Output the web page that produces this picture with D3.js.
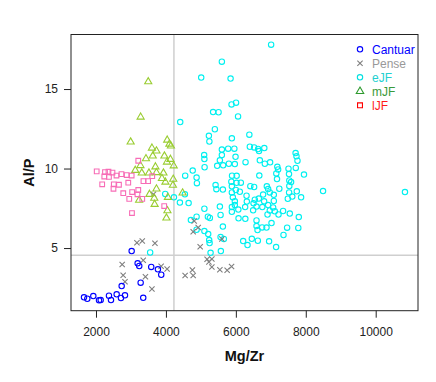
<!DOCTYPE html>
<html>
<head>
<meta charset="utf-8">
<script src="https://cdn.jsdelivr.net/npm/d3@7"></script>
<style>
  body { margin: 0; background: #fff; }
  text { font-family: "Liberation Sans", Arial, sans-serif; }
</style>
</head>
<body>
<script>
// data: [Mg/Zr, Al/P] pairs per group
var cantuar = [[3020,4.81],[3191,4.04],[3237,3.87],[3580,3.81],[3771,3.66],[3866,3.32],[3277,2.82],
  [2734,2.61],[1657,1.90],[1751,1.81],[1923,1.98],[2086,1.71],[2134,1.73],[2371,2.00],[2429,1.73],
  [2591,2.09],[2714,1.86],[2829,2.03],[3351,1.87]];

var pense = [[3643,8.38],[4809,6.70],[4923,6.29],[4780,6.03],[5600,5.57],[4980,5.08],[3171,5.33],
  [3323,5.44],[3686,5.30],[3351,4.23],[2749,3.97],[3863,3.85],[4034,3.68],[2777,3.29],[2829,2.88],
  [3414,3.19],[3600,2.43],[5177,4.30],[5314,4.31],[5314,3.81],[4549,3.27],[4757,3.62],[4780,3.27],
  [5543,3.64],[5751,3.60],[5877,3.84],[5229,4.12]];

var eJF = [[7009,17.79],[5600,16.72],[5009,15.72],[5849,15.66],[5877,14.03],[6006,14.14],[5349,13.55],
  [5506,13.54],[6063,13.28],[4409,12.92],[5400,12.47],[5229,12.06],[5243,11.70],[5886,11.90],[6386,12.13],
  [6400,11.37],[6523,11.33],[5094,10.85],[5100,10.60],[5106,10.08],[5600,11.19],[5600,10.85],[5780,11.25],
  [5957,11.25],[5991,10.74],[5543,10.52],[5637,10.20],[5466,10.17],[5800,10.30],[5971,10.28],[6277,10.40],
  [6663,11.10],[6637,11.23],[6814,11.29],[6686,10.52],[6829,10.30],[6980,10.39],[7186,10.11],[7209,9.94],
  [7157,9.69],[7177,9.34],[7506,9.99],[7520,9.65],[7529,9.25],[7580,9.15],[7529,8.90],[7709,10.97],
  [7734,10.77],[7763,10.49],[7714,10.04],[7949,9.62],[7743,8.57],[7866,8.19],[7614,8.24],[7486,8.10],
  [7523,8.50],[8494,8.58],[10837,8.52],[6671,9.56],[6414,8.89],[6523,8.84],[6886,8.88],[6923,8.71],
  [6971,8.50],[7086,8.35],[7086,7.96],[7243,8.73],[6780,8.36],[6657,8.11],[6543,8.04],[6809,7.94],
  [6591,7.61],[6757,7.58],[6923,7.70],[7066,7.55],[6971,7.36],[6906,7.11],[7114,7.31],[7220,7.11],
  [7351,7.33],[7543,7.17],[7800,6.95],[7020,6.57],[6751,6.30],[6877,6.29],[7466,6.28],[7786,6.26],
  [7363,5.82],[6209,5.44],[6334,5.19],[6457,5.58],[6629,5.46],[6951,5.42],[7151,5.06],[6591,6.38],
  [6620,6.13],[6314,7.92],[6071,7.42],[6077,6.87],[6271,6.84],[5886,7.28],[5971,7.70],[5891,9.55],
  [6023,9.54],[5871,9.17],[6020,9.10],[6143,9.11],[6000,8.65],[5914,8.19],[4551,9.55],[4766,9.87],
  [4877,9.43],[4886,9.08],[5886,8.88],[5886,8.50],[5971,7.94],[5420,8.96],[5443,8.70],[5629,8.68],
  [4543,8.38],[4229,8.19],[4400,7.86],[4649,7.83],[6306,8.29],[5100,7.47],[5543,7.61],[5886,7.58],
  [6266,7.58],[6494,7.37],[5200,6.97],[5257,6.89],[5563,7.08],[6591,6.74],[5629,6.35],[4877,6.15],
  [3549,4.72],[3980,8.40],[4714,6.76],[4877,6.97],[5100,6.07],[5237,5.50],[5249,5.31],[5277,4.70],
  [5571,4.81],[5563,5.69],[5657,5.57],[6114,8.54],[6506,7.81],[5209,5.88]];

var mJF = [[3494,15.46],[3277,13.24],[2991,11.67],[4037,11.79],[4100,11.54],[4143,11.42],[3600,11.29],
  [3729,11.11],[3957,10.79],[3623,10.79],[3429,10.62],[4029,10.41],[4129,10.58],[3271,10.19],[3700,10.11],
  [4223,10.17],[3123,9.89],[3309,9.72],[3514,9.72],[3729,9.75],[3929,9.72],[3886,9.38],[3986,9.15],
  [4209,9.33],[4200,8.95],[3729,8.72],[3529,8.38],[4057,8.19],[3666,8.14],[3234,8.01],[3677,7.75],
  [4043,7.35],[4014,6.89],[4477,8.47]];

var lJF = [[3209,10.49],[2020,9.82],[2257,9.78],[2357,9.80],[2471,9.75],[2237,9.50],[2371,9.47],
  [2586,9.56],[2729,9.65],[2877,9.59],[3020,9.56],[3609,9.52],[3357,9.21],[3491,9.21],[2177,9.01],
  [2509,9.01],[2657,8.98],[2923,9.11],[2500,8.73],[3209,8.65],[3034,8.52],[2780,8.45],[3186,8.38],
  [3323,8.09],[2951,8.09],[3951,7.64],[3029,7.20]];

var xTicks = [2000, 4000, 6000, 8000, 10000];
var yTicks = [5, 10, 15];
var vLine = 4229, hLine = 4.54;

var legendNames = ["Cantuar", "Pense", "eJF", "mJF", "lJF"];
var legendSym = ["circle", "times", "circle", "triangle", "square"];
var legendSymColor = ["#0000ff", "#808080", "#00e0e0", "#2e9a2e", "#ff0000"];
var legendTextColor = ["#0000ff", "#999999", "#22d0d0", "#3a9a3a", "#ff1a1a"];

//draw the chart when the page loads
window.onload = drawChart;

function drawChart(){
    var width = 436, height = 382;
    var mLeft = 71, mRight = 418, mTop = 34.5, mBottom = 310.7;

    var svg = d3.select("body").append("svg")
        .attr("width", width)
        .attr("height", height);

    var x = d3.scaleLinear().domain([1285, 11210]).range([mLeft, mRight]);
    var y = d3.scaleLinear().domain([1.06, 18.43]).range([mBottom, mTop]);

    //clip marks to the plot box
    svg.append("clipPath").attr("id", "clip")
      .append("rect").attr("x", mLeft).attr("y", mTop)
      .attr("width", mRight - mLeft).attr("height", mBottom - mTop);

    var plot = svg.append("g").attr("clip-path", "url(#clip)");

    //reference lines
    plot.append("line")
        .attr("x1", x(vLine)).attr("x2", x(vLine))
        .attr("y1", mTop).attr("y2", mBottom)
        .attr("stroke", "#cfcfcf").attr("stroke-width", 1.5);
    plot.append("line")
        .attr("x1", mLeft).attr("x2", mRight)
        .attr("y1", y(hLine)).attr("y2", y(hLine))
        .attr("stroke", "#cfcfcf").attr("stroke-width", 1.5);

    function drawSym(data, type, color) {
      if (type == "circle") {
        plot.append("g").selectAll("circle")
          .data(data).enter().append("circle")
          .attr("cx", function(d){ return x(d[0]); })
          .attr("cy", function(d){ return y(d[1]); })
          .attr("r", 2.7)
          .attr("fill", "none")
          .attr("stroke", color)
          .attr("stroke-width", 1.1);
      } else {
        var shape = type == "times" ? d3.symbolTimes : (type == "triangle" ? d3.symbolTriangle : d3.symbolSquare);
        var size = type == "times" ? 20 : 22;
        plot.append("g").selectAll("path")
          .data(data).enter().append("path")
          .attr("transform", function(d){ return "translate(" + x(d[0]) + "," + y(d[1]) + ")"; })
          .attr("d", d3.symbol(shape, size))
          .attr("fill", "none")
          .attr("stroke", color)
          .attr("stroke-width", 1.1);
      }
    }

    drawSym(eJF, "circle", "#00f0f0");
    drawSym(pense, "times", "#7f7f7f");
    drawSym(cantuar, "circle", "#0000ff");
    drawSym(mJF, "triangle", "#9acd32");
    drawSym(lJF, "square", "#f76cb6");

    //box
    svg.append("rect")
        .attr("x", mLeft).attr("y", mTop)
        .attr("width", mRight - mLeft).attr("height", mBottom - mTop)
        .attr("fill", "none").attr("stroke", "#222").attr("stroke-width", 1);

    //axes
    var xAxis = svg.append("g")
        .attr("transform", "translate(0," + mBottom + ")")
        .call(d3.axisBottom(x).tickValues(xTicks).tickSize(7).tickPadding(10).tickFormat(d3.format("d")));
    var yAxis = svg.append("g")
        .attr("transform", "translate(" + mLeft + ",0)")
        .call(d3.axisLeft(y).tickValues(yTicks).tickSize(7).tickPadding(6));

    [xAxis, yAxis].forEach(function(a){
      a.select(".domain").remove();
      a.selectAll("line").attr("stroke", "#222");
      a.selectAll("text").attr("fill", "#222")
        .style("font-family", "'Liberation Sans', Arial, sans-serif")
        .style("font-size", "12px");
    });

    //titles
    svg.append("text")
        .attr("x", (mLeft + mRight) / 2).attr("y", 361)
        .attr("text-anchor", "middle")
        .style("font-size", "14.5px").style("font-weight", "bold")
        .attr("fill", "#111")
        .text("Mg/Zr");
    svg.append("text")
        .attr("transform", "translate(33.5," + (mTop + mBottom) / 2 + ") rotate(-90)")
        .attr("text-anchor", "middle")
        .style("font-size", "14.5px").style("font-weight", "bold")
        .attr("fill", "#111")
        .text("Al/P");

    //legend
    var legend = svg.append("g");
    legendNames.forEach(function(name, i){
      var ly = 49.3 + i * 14;
      var t = legendSym[i];
      if (t == "circle") {
        legend.append("circle").attr("cx", 360).attr("cy", ly).attr("r", 2.7)
          .attr("fill", "none").attr("stroke", legendSymColor[i]).attr("stroke-width", 1.1);
      } else {
        var shape = t == "times" ? d3.symbolTimes : (t == "triangle" ? d3.symbolTriangle : d3.symbolSquare);
        legend.append("path")
          .attr("transform", "translate(360," + ly + ")")
          .attr("d", d3.symbol(shape, t == "times" ? 20 : 24))
          .attr("fill", "none").attr("stroke", legendSymColor[i]).attr("stroke-width", 1.1);
      }
      legend.append("text")
        .attr("x", 372).attr("y", ly + 4.3)
        .style("font-size", "12px")
        .attr("fill", legendTextColor[i])
        .text(name);
    });
}
</script>
</body>
</html>
